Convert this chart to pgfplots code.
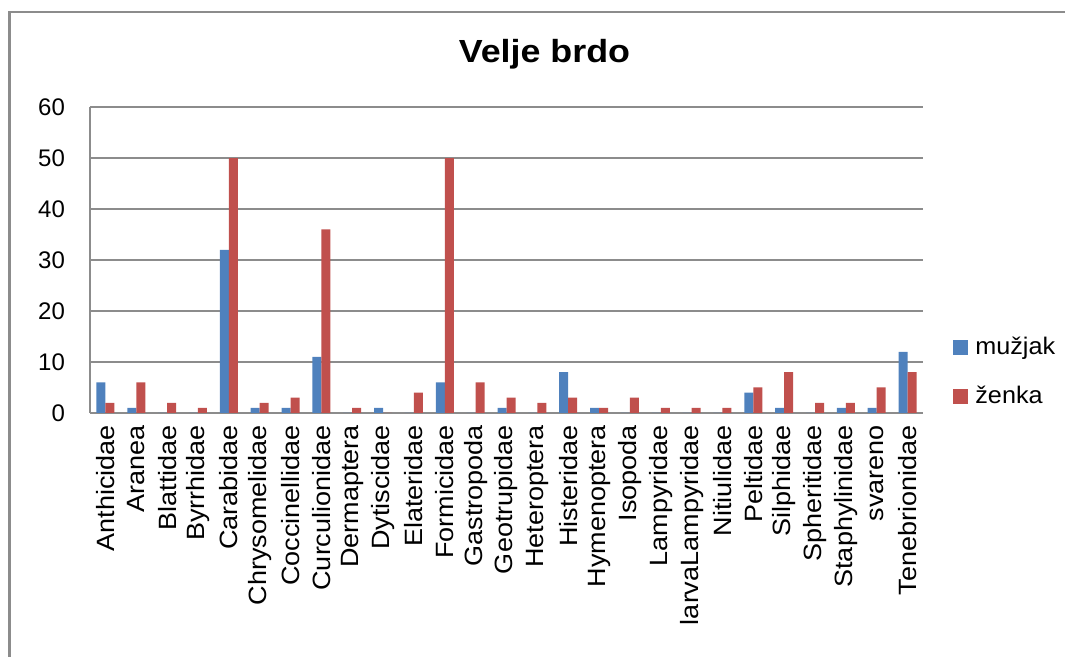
\documentclass[border=0pt]{standalone}
\usepackage{pgfplots}
\pgfplotsset{compat=1.18}
\usepackage{pgfplotstable}
\usepackage{fontspec}
\setmainfont{Liberation Sans}
\newfontfamily\xlabfont[FakeStretch=1.08]{Liberation Sans}
\newfontfamily\titlefont[FakeStretch=1.12]{Liberation Sans}
\newfontfamily\legfont[FakeStretch=1.05]{Liberation Sans}
\definecolor{mblue}{HTML}{4F81BD}
\definecolor{zred}{HTML}{C0504D}
\definecolor{gline}{HTML}{8C8C8C}

\pgfplotstableread{
x m z
0 6 2
1 1 6
2 0 2
3 0 1
4 32 50
5 1 2
6 1 3
7 11 36
8 0 1
9 1 0
10 0 4
11 6 50
12 0 6
13 1 3
14 0 2
15 8 3
16 1 1
17 0 3
18 0 1
19 0 1
20 0 1
21 4 5
22 1 8
23 0 2
24 1 2
25 1 5
26 12 8
}\data

\begin{document}
\begin{tikzpicture}
\useasboundingbox (-45pt,-122pt) rectangle (487.5pt,206.5pt);
\draw[gline, line width=1.25pt] (-40.35pt,-130pt) -- (-40.35pt,200.5pt) -- (495pt,200.5pt);
\begin{axis}[
  scale only axis,
  width=416.5pt, height=153pt,
  ybar=0pt, bar width=4.5pt,
  xmin=-0.5, xmax=26.5,
  ymin=0, ymax=60,
  ytick={0,10,...,60},
  xtick=data,
  xticklabels={Anthicidae,Aranea,Blattidae,Byrrhidae,Carabidae,Chrysomelidae,Coccinellidae,Curculionidae,Dermaptera,Dytiscidae,Elateridae,Formicidae,Gastropoda,Geotrupidae,Heteroptera,Histeridae,Hymenoptera,Isopoda,Lampyridae,larvaLampyridae,Nitiulidae,Peltidae,Silphidae,Spheritidae,Staphylinidae,svareno,Tenebrionidae},
  axis x line*=bottom, axis y line*=left,
  axis line style={gline, line width=0.75pt, -},
  ymajorgrids, grid style={gline, line width=0.75pt},
  major tick length=0pt, tick style={draw=none},
  /pgf/number format/assume math mode=true,
  yticklabel style={font=\fontsize{12}{14}\selectfont, xshift=-9pt},
  xticklabel style={font=\xlabfont\fontsize{12.5}{14}\selectfont, rotate=90, anchor=east, inner xsep=6pt},
  title={\titlefont\bfseries\fontsize{16}{19}\selectfont Velje brdo},
  title style={at={(0.5456,1)}, anchor=base, yshift=16.5pt},
  legend style={at={(1.036,0.134)}, anchor=west, draw=none, fill=none,
    font=\legfont\fontsize{12}{14}\selectfont, row sep=10.5pt, inner sep=0pt},
  legend cell align=left,
  legend image code/.code={\fill[#1] (0pt,-3.75pt) rectangle (7.5pt,3.75pt);},
  legend style={nodes={inner xsep=3.5pt}},
]
\addplot[fill=mblue, draw=none] table[x=x, y=m] {\data};
\addplot[fill=zred, draw=none] table[x=x, y=z] {\data};
\legend{mužjak, ženka}
\end{axis}
\end{tikzpicture}
\end{document}
